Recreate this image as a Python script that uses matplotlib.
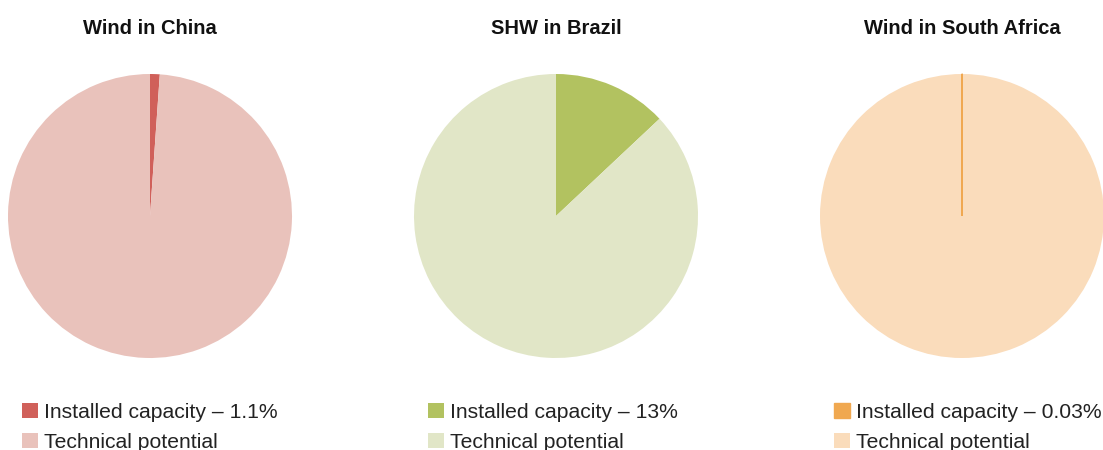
import matplotlib
matplotlib.use("Agg")
import matplotlib.pyplot as plt

titles = ["Wind in China", "SHW in Brazil", "Wind in South Africa"]
installed_pct = [1.1, 13, 0.03]
installed_labels = ["Installed capacity – 1.1%", "Installed capacity – 13%", "Installed capacity – 0.03%"]
potential_label = "Technical potential"
installed_colors = ["#D0605A", "#B2C260", "#F0A850"]
potential_colors = ["#E9C2BB", "#E1E6C7", "#FADCBB"]

plt.rcParams['font.family'] = ['Liberation Sans', 'DejaVu Sans']

W, H = 1103, 450
fig = plt.figure(figsize=(W / 100, H / 100), dpi=100)
fig.patch.set_facecolor("white")

centers_x = [150, 556, 962]
cy = 216
r = 142
legend_x = [22, 428, 834]

for i in range(3):
    ax = fig.add_axes([(centers_x[i] - r) / W, (H - cy - r) / H, 2 * r / W, 2 * r / H])
    vals = [installed_pct[i], 100 - installed_pct[i]]
    wedges, _ = ax.pie(vals, colors=[installed_colors[i], potential_colors[i]],
                       startangle=90, counterclock=False, radius=1,
                       wedgeprops=dict(linewidth=0))
    if i == 2:
        wedges[0].set_edgecolor(installed_colors[i])
        wedges[0].set_linewidth(1.0)
        wedges[0].set_zorder(5)
    ax.set_xlim(-1, 1)
    ax.set_ylim(-1, 1)
    ax.set_aspect("equal")
    ax.axis("off")
    fig.text(centers_x[i] / W, 1 - 28 / H, titles[i], ha="center", va="center",
             fontsize=14.5, fontweight="bold", color="#111111")
    leg = fig.legend(wedges, [installed_labels[i], potential_label],
                     loc="upper left", bbox_to_anchor=(legend_x[i] / W, 1 - 403 / H),
                     bbox_transform=fig.transFigure, frameon=False,
                     fontsize=15.2, handlelength=0.75, handleheight=0.75,
                     handletextpad=0.3, labelspacing=0.5, borderpad=0,
                     borderaxespad=0)
    for t in leg.get_texts():
        t.set_color("#222222")

fig.savefig("out.png", dpi=100, facecolor="white")
